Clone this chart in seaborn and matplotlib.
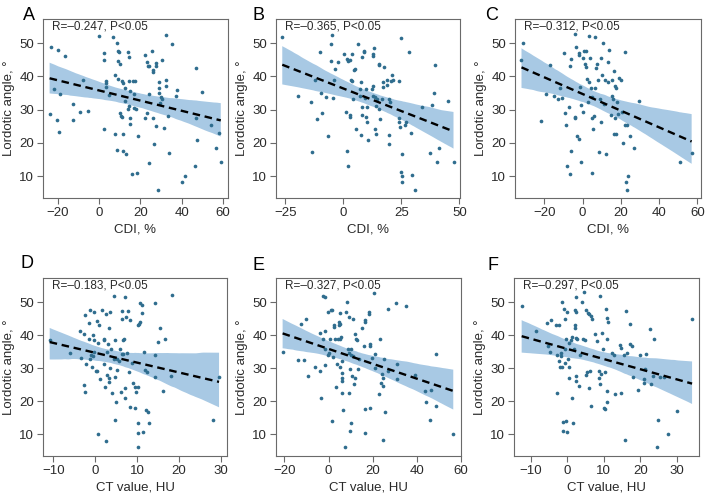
import matplotlib
matplotlib.use("Agg")
import matplotlib.pyplot as plt
import seaborn as sns

# ---- data ----
a_x = [-23.1, -20.0, -16.3, -23.9, -21.6, -20.3, -19.5, -18.7, -12.5, -12.7,
       -9.4, -7.6, -5.2, -0.2, 2.3, 2.6, 2.6, 3.4, 3.6, 3.4,
       4.9, 7.0, 8.6, 9.3, 9.8, 9.1, 10.1, 7.8, 9.3, 10.9,
       11.5, 12.5, 7.6, 8.6, 10.1, 10.6, 11.1, 11.7, 11.7, 13.0,
       12.7, 13.8, 14.1, 14.6, 14.6, 14.9, 14.5, 14.8, 14.9, 15.8,
       16.3, 17.1, 16.7, 17.6, 17.9, 18.4, 18.7, 22.4, 23.3, 23.6,
       25.5, 24.4, 26.2, 26.3, 27.6, 27.8, 28.8, 29.1, 30.7, 32.4,
       35.3, 32.4, 32.4, 28.8, 30.1, 30.7, 29.4, 24.2, 23.1, 22.4,
       26.0, 27.5, 26.8, 31.4, 33.3, 33.7, 24.2, 28.5, 37.6, 37.4,
       40.0, 41.5, 46.7, 49.6, 46.7, 47.6, 46.3, 54.0, 56.6, 57.9,
       58.9]
a_y = [48.8, 47.9, 46.1, 28.7, 36.2, 26.8, 23.3, 34.7, 31.7, 26.9,
       29.4, 39.0, 29.6, 52.2, 47.0, 45.1, 24.1, 38.7, 37.9, 36.8,
       34.4, 51.8, 50.0, 47.8, 47.3, 44.8, 43.8, 40.3, 39.2, 38.7,
       38.0, 36.5, 22.6, 17.8, 29.1, 28.1, 27.7, 22.6, 17.5, 16.7,
       32.7, 30.1, 47.3, 45.8, 38.7, 35.7, 31.1, 27.6, 25.6, 10.5,
       38.7, 34.7, 30.6, 38.7, 30.1, 10.8, 22.1, 46.5, 44.5, 43.2,
       47.6, 43.2, 42.0, 41.4, 44.0, 43.2, 36.5, 38.2, 44.9, 52.6,
       49.8, 38.9, 37.2, 34.9, 33.7, 33.2, 32.1, 34.7, 29.1, 27.4,
       27.4, 25.0, 19.8, 24.4, 28.1, 17.0, 14.0, 5.8, 35.9, 34.1,
       8.2, 10.0, 42.4, 35.2, 27.6, 21.0, 13.1, 25.4, 18.5, 23.0,
       14.3]

b_x = [-26.3, -19.5, -14.0, -13.7, -11.3, -12.3, -10.1, -9.1, -9.4, -7.5,
       -6.8, -5.1, -4.8, -5.1, -4.6, -3.6, -3.9, -2.2, 0.1, 1.7,
       2.2, 3.0, 3.6, 1.0, 1.4, 1.9, 2.7, 3.0, 3.2, 3.9,
       4.3, 4.5, 5.1, 5.3, 6.2, 7.1, 7.4, 7.6, 7.9, 7.9,
       7.8, 8.1, 8.8, 9.1, 9.4, 9.8, 10.1, 9.8, 10.2, 10.8,
       12.3, 12.6, 12.8, 12.6, 13.0, 13.4, 13.7, 14.0, 13.7, 14.1,
       14.7, 15.2, 15.6, 15.4, 15.9, 16.6, 17.0, 17.3, 17.7, 18.9,
       18.8, 19.9, 20.2, 19.8, 19.8, 20.5, 21.2, 21.5, 23.8, 23.8,
       24.1, 24.4, 24.8, 25.3, 25.0, 25.5, 25.3, 26.4, 27.0, 28.4,
       29.3, 29.6, 31.0, 33.9, 37.2, 38.2, 39.1, 39.4, 40.4, 41.4,
       45.2, 47.5]
b_y = [52.0, 34.2, 32.2, 17.4, 27.2, 39.0, 47.3, 29.0, 34.9, 33.7,
       22.2, 49.8, 52.5, 44.8, 33.5, 42.1, 39.0, 44.3, 46.8, 45.3,
       44.8, 45.0, 46.8, 29.2, 17.6, 13.1, 27.7, 28.5, 39.0, 38.7,
       33.2, 41.8, 42.3, 24.2, 49.8, 34.0, 36.2, 38.2, 30.9, 28.4,
       22.4, 45.8, 47.8, 47.5, 33.5, 36.2, 30.7, 27.7, 26.2, 21.0,
       36.2, 34.2, 37.2, 46.9, 46.1, 48.5, 33.9, 31.2, 24.2, 22.7,
       33.2, 43.3, 43.8, 30.2, 27.2, 33.2, 36.7, 38.2, 42.8, 39.0,
       37.4, 33.2, 32.2, 22.4, 19.6, 38.7, 40.3, 39.0, 38.7, 27.4,
       26.2, 24.7, 51.5, 16.6, 11.1, 10.1, 8.1, 25.4, 26.4, 47.5,
       23.1, 10.4, 5.8, 30.7, 16.9, 31.4, 34.9, 43.3, 14.1, 18.5,
       32.5, 14.3]

c_x = [-32.0, -31.1, -17.3, -22.0, -19.0, -15.2, -13.0, -11.8, -10.9, -10.0,
       -9.5, -8.7, -8.1, -6.9, -6.6, -6.1, -5.9, -6.4, -4.2, -3.8,
       -3.8, -3.5, -3.1, -2.1, -1.7, -1.2, -1.0, -1.7, -0.9, 0.0,
       0.3, 0.9, 1.7, 1.4, 1.7, 2.1, 2.6, 3.5, 3.8, 3.5,
       4.3, 4.7, 4.8, 5.2, 4.7, 6.1, 6.6, 6.9, 6.6, 7.4,
       8.0, 8.3, 9.0, 9.5, 9.9, 9.7, 10.4, 10.9, 11.6, 12.1,
       13.0, 13.3, 13.8, 14.7, 15.1, 15.6, 15.9, 16.4, 16.8, 17.0,
       16.6, 17.3, 17.6, 18.2, 18.5, 19.0, 19.9, 20.4, 21.1, 22.0,
       22.1, 22.5, 23.0, 23.4, 23.5, 24.9, 26.8, 29.4, 51.0, 57.0]
c_y = [44.9, 50.0, 43.4, 26.6, 34.8, 34.0, 33.3, 36.4, 33.6, 47.0,
       29.1, 25.5, 13.1, 30.8, 43.1, 45.2, 17.7, 10.6, 27.8, 27.6,
       52.7, 48.9, 22.2, 47.0, 46.5, 36.9, 14.1, 21.2, 31.5, 29.3,
       45.5, 47.7, 47.7, 43.9, 42.9, 39.2, 32.3, 52.2, 45.5, 38.4,
       36.6, 33.8, 27.5, 24.2, 10.9, 28.1, 52.0, 42.4, 36.4, 43.9,
       38.9, 17.4, 33.3, 45.7, 40.4, 26.3, 50.0, 31.8, 38.9, 16.7,
       44.4, 38.4, 48.0, 28.3, 38.9, 34.1, 33.3, 41.6, 37.1, 27.5,
       22.7, 36.6, 22.7, 32.3, 28.8, 39.4, 38.9, 29.3, 20.0, 47.3,
       25.5, 8.3, 25.3, 5.9, 9.9, 22.2, 18.5, 32.5, 14.3, 17.0]

d_x = [-10.9, -6.0, -3.6, -3.3, -2.8, -2.7, -2.5, -2.4, -2.2, -1.6,
       -1.3, -1.5, -1.2, -1.0, -0.8, -0.6, -0.4, -0.6, -0.2, -0.2,
       0.1, 0.4, 0.6, 0.4, 0.6, 0.9, 1.2, 1.6, 2.0, 2.1,
       2.2, 2.3, 2.5, 2.6, 2.8, 2.9, 3.1, 3.3, 3.3, 3.4,
       3.6, 3.6, 3.8, 4.0, 4.4, 4.5, 4.8, 4.8, 4.8, 5.0,
       5.2, 5.3, 5.6, 6.0, 6.2, 6.3, 6.3, 6.4, 6.6, 6.7,
       6.9, 7.1, 7.1, 7.2, 7.4, 7.5, 7.9, 8.0, 8.2, 8.3,
       8.7, 9.1, 9.4, 9.5, 9.8, 10.1, 10.2, 10.4, 10.6, 10.2,
       10.3, 10.3, 10.7, 11.1, 11.2, 11.3, 11.7, 11.8, 12.1, 12.5,
       12.9, 12.3, 14.3, 14.4, 14.4, 15.1, 15.5, 16.1, 16.7, 18.3,
       18.0, 28.2, 29.6]
d_y = [38.4, 34.7, 41.3, 33.1, 40.2, 24.9, 22.7, 46.0, 31.4, 43.8,
       47.5, 38.7, 32.9, 33.9, 30.4, 33.7, 47.0, 40.0, 38.4, 34.9,
       29.2, 29.2, 10.0, 44.2, 37.7, 43.0, 26.6, 47.6, 38.4, 38.9,
       31.2, 24.2, 8.0, 46.4, 27.9, 34.9, 37.4, 26.9, 25.9, 42.2,
       47.0, 29.9, 35.9, 22.4, 51.8, 32.9, 38.6, 27.4, 14.3, 19.9,
       29.4, 32.7, 32.1, 35.9, 22.9, 45.0, 47.2, 34.2, 38.4, 34.4,
       38.7, 51.5, 20.9, 23.9, 45.5, 34.6, 47.4, 28.9, 44.6, 18.3,
       31.7, 25.4, 24.4, 17.8, 22.7, 24.4, 43.0, 43.5, 44.0, 13.3,
       10.3, 6.0, 49.8, 49.0, 46.8, 10.8, 34.9, 29.4, 17.3, 16.8,
       13.3, 28.9, 49.8, 33.9, 27.2, 37.9, 42.2, 23.1, 38.7, 52.3,
       27.7, 14.3, 27.3]

e_x = [-20.8, -14.0, -12.5, -10.9, -10.3, -9.4, -6.0, -3.8, -3.8, -3.5,
       -2.7, -1.5, -2.3, -1.5, -1.8, -1.5, -0.3, -0.3, 0.3, 0.8,
       1.2, 1.6, 1.5, 1.8, 2.3, 2.6, 3.0, 3.3, 3.8, 4.1,
       4.6, 4.8, 5.0, 5.3, 5.3, 5.8, 5.4, 6.1, 6.1, 6.1,
       6.1, 6.1, 6.4, 7.3, 7.9, 8.5, 8.8, 9.1, 9.1, 9.4,
       10.0, 9.8, 10.0, 9.8, 10.3, 10.6, 10.9, 11.1, 11.4, 11.8,
       12.1, 12.4, 12.9, 13.2, 13.6, 15.1, 15.9, 16.4, 16.6, 16.6,
       16.6, 18.2, 18.4, 18.6, 18.8, 18.6, 19.7, 20.4, 20.9, 21.2,
       23.0, 23.2, 23.7, 24.2, 24.5, 24.7, 25.0, 24.7, 25.4, 26.9,
       26.9, 30.7, 31.0, 31.0, 35.2, 39.3, 43.6, 44.3, 45.8, 46.5,
       48.5, 48.5, 56.5]
e_y = [35.0, 32.5, 43.3, 32.4, 45.0, 27.5, 30.5, 40.7, 29.1, 21.0,
       52.0, 51.6, 38.7, 41.4, 35.7, 30.9, 47.0, 33.9, 34.7, 38.7,
       47.5, 47.5, 14.1, 33.3, 42.5, 43.0, 38.7, 24.4, 31.2, 38.9,
       43.0, 44.0, 38.9, 46.8, 43.3, 39.5, 30.2, 32.2, 28.6, 27.1,
       26.1, 22.6, 17.2, 6.0, 47.0, 50.0, 35.9, 45.5, 34.7, 22.6,
       35.7, 29.7, 13.3, 11.0, 34.1, 27.6, 44.8, 33.7, 25.1, 40.2,
       27.1, 38.9, 38.5, 29.7, 32.7, 42.1, 36.7, 44.0, 44.6, 17.6,
       10.5, 47.0, 46.3, 37.2, 36.7, 17.8, 33.2, 52.8, 34.2, 29.9,
       22.1, 38.7, 25.6, 28.1, 26.9, 24.6, 32.7, 8.3, 16.8, 47.8,
       29.2, 49.8, 26.6, 31.2, 48.8, 27.8, 23.1, 19.8, 14.4, 23.4,
       34.2, 18.6, 10.2]

f_x = [-12.5, -8.6, -5.5, -4.5, -5.3, -4.7, -3.2, -2.3, -2.9, -2.7,
       -2.3, -2.0, -1.8, -1.6, -1.4, -1.4, -1.3, -1.1, -0.9, -0.7,
       -0.7, -0.5, -0.4, -0.3, 0.0, 0.0, 0.2, 0.4, 0.5, 0.5,
       0.9, 1.2, 1.4, 1.6, 1.8, 2.0, 2.0, 2.1, 2.3, 2.4,
       2.4, 2.5, 2.5, 2.7, 3.2, 3.6, 3.9, 4.5, 4.4, 4.8,
       5.0, 5.2, 5.5, 5.7, 5.9, 6.0, 6.2, 6.4, 6.5, 6.8,
       7.7, 8.2, 8.6, 8.7, 8.9, 9.1, 9.3, 9.6, 9.8, 10.0,
       10.3, 10.4, 10.7, 10.9, 11.1, 10.9, 10.9, 10.9, 12.3, 12.7,
       13.0, 14.4, 14.7, 14.8, 15.6, 15.9, 16.2, 16.5, 17.1, 17.3,
       17.7, 17.9, 19.3, 20.0, 20.9, 21.1, 21.4, 21.6, 22.7, 23.0,
       23.8, 23.6, 25.0, 24.5, 25.5, 26.4, 27.5, 30.0, 34.2]
f_y = [48.8, 41.4, 43.8, 44.5, 36.7, 35.0, 43.0, 43.0, 33.9, 22.6,
       32.2, 30.5, 33.7, 34.7, 50.0, 30.5, 13.7, 11.0, 47.8, 44.8,
       35.7, 31.7, 38.9, 14.1, 10.7, 47.1, 32.7, 37.5, 30.2, 27.1,
       38.5, 39.5, 21.1, 13.3, 35.9, 43.0, 42.1, 47.6, 47.0, 51.6,
       27.6, 26.1, 39.2, 38.7, 24.6, 33.9, 50.0, 53.0, 38.7, 38.5,
       47.6, 27.8, 28.9, 46.8, 46.3, 24.1, 29.2, 45.8, 18.6, 45.0,
       40.2, 38.2, 29.2, 27.1, 25.1, 52.0, 28.1, 40.7, 35.9, 17.8,
       17.6, 28.7, 47.8, 45.3, 44.0, 38.7, 23.1, 19.8, 34.5, 33.9,
       22.1, 36.9, 36.2, 22.6, 33.9, 8.3, 47.3, 34.5, 43.3, 37.2,
       36.7, 27.4, 23.4, 33.9, 26.6, 25.4, 29.7, 34.2, 42.0, 25.1,
       38.9, 27.6, 14.4, 6.0, 27.4, 27.4, 10.0, 17.1, 45.0]

letters = ["A", "B", "C", "D", "E", "F"]
stats = ["R=\u20130.247, P<0.05", "R=\u20130.365, P<0.05", "R=\u20130.312, P<0.05",
         "R=\u20130.183, P<0.05", "R=\u20130.327, P<0.05", "R=\u20130.297, P<0.05"]
x_labels = ["CDI, %", "CDI, %", "CDI, %", "CT value, HU", "CT value, HU", "CT value, HU"]
y_label = "Lordotic angle, \u00b0"
x_ticks = [[-20, 0, 20, 40, 60], [-25, 0, 25, 50], [-20, 0, 20, 40, 60],
           [-10, 0, 10, 20, 30], [-20, 0, 20, 40, 60], [-10, 0, 10, 20, 30]]
y_ticks = [10, 20, 30, 40, 50]

xs_all = [a_x, b_x, c_x, d_x, e_x, f_x]
ys_all = [a_y, b_y, c_y, d_y, e_y, f_y]

# ---- layout (pixel boxes of each panel) ----
W, H = 709, 498
boxes = [(43, 19, 228, 198), (276, 19, 460, 198), (515, 19, 701, 198),
         (43, 278, 227, 456), (276, 278, 461, 456), (514, 278, 699, 456)]
xlims = [(-27.1, 62.4), (-29.0, 50.3), (-35.4, 61.9),
         (-12.5, 31.5), (-23.8, 60.0), (-14.6, 36.1)]
ylim = (3.4, 57.3)
letter_pos = [(23, 15), (253, 15), (485, 15), (20, 263), (252, 265), (487, 265)]

point_color = "#2f6d8e"
band_color = "#a8c9e4"
frame_color = "#6a6a6a"
text_color = "#2a2a2a"

sns.set_theme(style="ticks")
plt.rcParams['font.family'] = ['Liberation Sans', 'DejaVu Sans']

fig = plt.figure(figsize=(W / 100, H / 100), dpi=100)

for i in range(6):
    l, t, r, b = boxes[i]
    ax = fig.add_axes([l / W, 1 - b / H, (r - l) / W, (b - t) / H])
    xs, ys = xs_all[i], ys_all[i]

    sns.regplot(x=xs, y=ys, ax=ax, scatter=False, ci=95, n_boot=1000, seed=3,
                color=band_color,
                line_kws=dict(color="black", ls=(0, (3.2, 2.0)), lw=1.7, zorder=4))
    band = ax.collections[0]
    band.set_facecolor(band_color)
    band.set_alpha(1)
    band.set_edgecolor("none")

    ax.scatter(xs, ys, s=7, color=point_color, linewidths=0, zorder=3)

    ax.set_xlim(*xlims[i])
    ax.set_ylim(*ylim)
    ax.set_xticks(x_ticks[i])
    ax.set_xticklabels([str(v).replace("-", "\u2212") for v in x_ticks[i]])
    ax.set_yticks(y_ticks)

    for s in ax.spines.values():
        s.set_visible(True)
        s.set_color(frame_color)
        s.set_linewidth(0.8)
    ax.tick_params(direction="out", length=4.5, width=0.8, color=frame_color,
                   labelsize=9.5, labelcolor=text_color, pad=2)

    ax.set_xlabel(x_labels[i], fontsize=9.5, color=text_color, labelpad=3)
    ax.set_ylabel(y_label, fontsize=9.5, color=text_color, labelpad=3)

    ax.text(0.05, 0.957, stats[i], transform=ax.transAxes, ha="left", va="center",
            fontsize=8.5, color=text_color)

    lx, ly = letter_pos[i]
    fig.text(lx / W, 1 - ly / H, letters[i], ha="left", va="center",
             fontsize=13, color="black")

fig.savefig("out.png", dpi=100)
